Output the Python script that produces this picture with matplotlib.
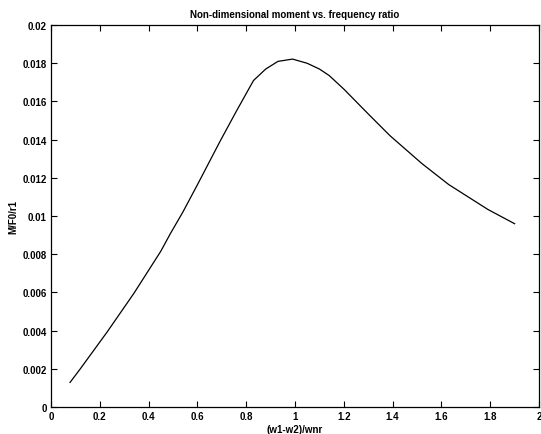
import matplotlib
matplotlib.use('Agg')
import matplotlib.pyplot as plt
from matplotlib.ticker import FuncFormatter

# frequency ratio (w1-w2)/wnr and non-dimensional moment M/F0/r1
ratio = [0.078, 0.12, 0.23, 0.34, 0.45, 0.49, 0.54, 0.60, 0.693, 0.76,
         0.83, 0.88, 0.93, 0.99, 1.05, 1.10, 1.14, 1.20, 1.30, 1.39,
         1.52, 1.63, 1.79, 1.90]
moment = [0.00129, 0.0020, 0.00393, 0.00596, 0.00816, 0.0091, 0.0102, 0.01164,
          0.01392, 0.0155, 0.0171, 0.0177, 0.0181, 0.01822, 0.0180, 0.0177,
          0.01736, 0.01665, 0.01535, 0.0142, 0.01275, 0.01165, 0.01035, 0.0096]

x_ticks = [0, 0.2, 0.4, 0.6, 0.8, 1, 1.2, 1.4, 1.6, 1.8, 2]
y_ticks = [0, 0.002, 0.004, 0.006, 0.008, 0.01, 0.012, 0.014, 0.016, 0.018, 0.02]

plt.rcParams['font.family'] = ['Liberation Sans', 'DejaVu Sans']
plt.rcParams['font.size'] = 7
plt.rcParams['font.weight'] = 'bold'

fig = plt.figure(figsize=(5.41, 4.35), dpi=100)
ax = fig.add_axes([0.0943, 0.062, 0.902, 0.878])

ax.plot(ratio, moment, color='black', linewidth=0.9)

ax.set_xlim(0, 2)
ax.set_ylim(0, 0.02)
ax.set_xticks(x_ticks)
ax.set_yticks(y_ticks)
ax.xaxis.set_major_formatter(FuncFormatter(lambda v, p: '%g' % v))
ax.yaxis.set_major_formatter(FuncFormatter(lambda v, p: '%g' % v))
ax.tick_params(direction='in', top=True, right=True, length=4, width=0.8,
               labelsize=7, pad=3)
for s in ax.spines.values():
    s.set_linewidth(0.9)

ax.set_title('Non-dimensional moment vs. frequency ratio', fontsize=7,
             fontweight='bold', pad=6)
ax.set_xlabel('(w1-w2)/wnr', fontsize=7, fontweight='bold', labelpad=2)
ax.set_ylabel('M/F0/r1', fontsize=7, fontweight='bold', labelpad=3)

fig.savefig('out.png', dpi=100)
